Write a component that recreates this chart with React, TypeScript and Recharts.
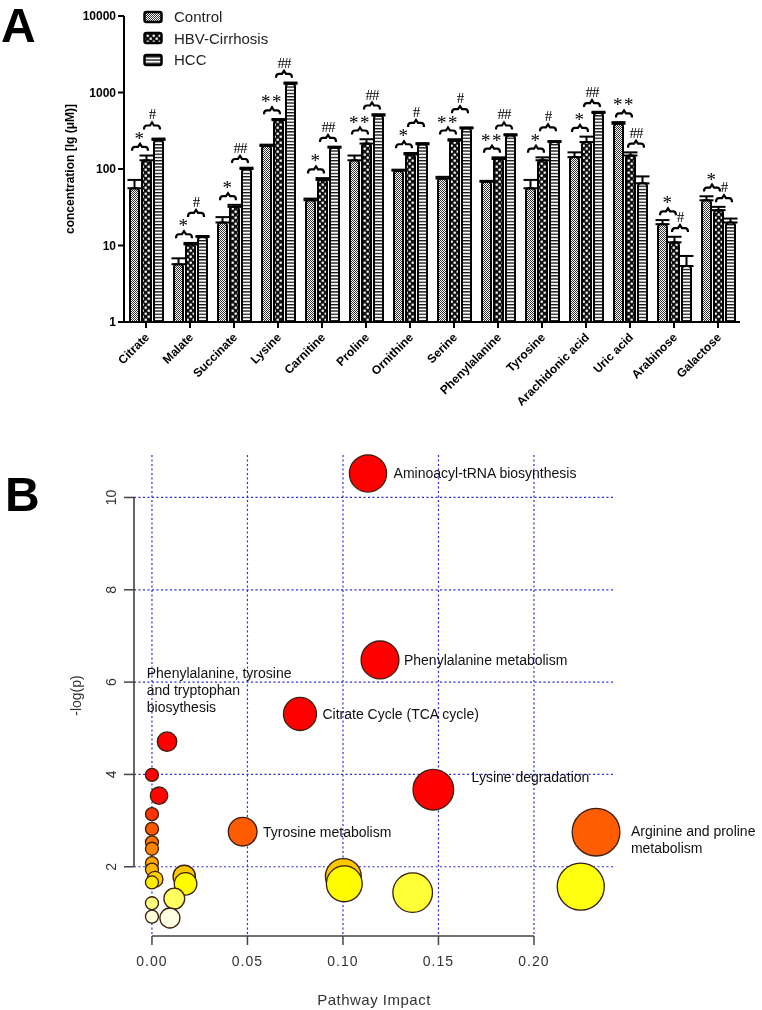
import React from 'react'
import {
  ComposedChart, Bar, ErrorBar, Scatter, ScatterChart, XAxis, YAxis,
  CartesianGrid, ReferenceLine,
} from 'recharts'

// ---- panel A: serum metabolite concentrations ----
const metabolites = ['Citrate', 'Malate', 'Succinate', 'Lysine', 'Carnitine', 'Proline', 'Ornithine', 'Serine',
  'Phenylalanine', 'Tyrosine', 'Arachidonic acid', 'Uric acid', 'Arabinose', 'Galactose']
const control = [56, 5.7, 20, 200, 39, 130, 95, 75, 68, 56, 143, 390, 19, 39]
const controlErr = [16, 1.1, 3.5, 8, 2, 20, 3, 4, 2, 16, 22, 20, 2.5, 5]
const cirrhosis = [130, 10.3, 32, 435, 72, 215, 155, 235, 135, 130, 225, 150, 11, 29]
const cirrhosisErr = [20, 0.5, 2, 15, 4, 30, 7, 10, 7, 12, 40, 15, 2, 3]
const hcc = [240, 12.9, 100, 1300, 190, 500, 210, 340, 275, 225, 540, 65, 5.4, 20]
const hccErr = [10, 0.4, 4, 50, 6, 20, 8, 10, 10, 7, 20, 15, 1.9, 2.5]
const sigVsControl = ['*', '*', '*', '**', '*', '**', '*', '**', '**', '*', '*', '**', '*', '*']
const sigVsCirrhosis = ['#', '#', '##', '##', '##', '##', '#', '#', '##', '#', '##', '##', '#', '#']
const concTicks = [1, 10, 100, 1000, 10000]

// ---- panel B: pathway analysis ----
const pathwayNames = ['Aminoacyl-tRNA biosynthesis', 'Phenylalanine metabolism', 'Citrate Cycle (TCA cycle)',
  'Phenylalanine, tyrosine and tryptophan biosythesis', '', 'Lysine degradation', '', '', '',
  'Tyrosine metabolism', 'Arginine and proline metabolism', '', '', '', '', '', '', '', '', '', '', '', '',
  '', '', '', '', '']
const pathwayImpact = [0.1131, 0.1194, 0.0775, 0.0079, 0, 0.1473, 0.0037, 0, 0, 0.0475, 0.2325, 0, 0, 0, 0,
  0.0169, 0.1002, 0.0016, 0, 0.1007, 0.0176, 0.2245, 0.1365, 0.0117, 0, 0, 0.0094]
const pathwayLogP = [10.52, 6.48, 5.31, 4.71, 3.99, 3.67, 3.54, 3.14, 2.82, 2.76, 2.75, 2.53, 2.39, 2.08, 1.94,
  1.79, 1.79, 1.73, 1.66, 1.63, 1.63, 1.57, 1.44, 1.31, 1.21, 0.92, 0.89]
const impactTicks = [0, 0.05, 0.1, 0.15, 0.2]
const logPTicks = [2, 4, 6, 8, 10]

const FONT = '"Liberation Sans", Arial, sans-serif'
const BAR_STEP = 12

const barData = metabolites.map((name, i) => {
  const c = control[i] + controlErr[i]
  const h = cirrhosis[i] + cirrhosisErr[i]
  const t = hcc[i] + hccErr[i]
  const bracketA = Math.max(c, h) * 1.3
  let bracketB = Math.max(h, t) * 1.3
  if (h >= c) bracketB = Math.max(bracketB, bracketA * 1.9)
  return {
    name,
    control: control[i], controlErr: [0, controlErr[i]],
    cirrhosis: cirrhosis[i], cirrhosisErr: [0, cirrhosisErr[i]],
    hcc: hcc[i], hccErr: [0, hccErr[i]],
    bracketA, bracketB, sigA: sigVsControl[i], sigB: sigVsCirrhosis[i],
  }
})

const pathways = pathwayImpact.map((impact, i) => ({ name: pathwayNames[i], impact, logp: pathwayLogP[i] }))

const LABELS: Record<string, { dx: number; dy: number; lines: string[] }> = {
  'Aminoacyl-tRNA biosynthesis': { dx: 7, dy: 0, lines: ['Aminoacyl-tRNA biosynthesis'] },
  'Phenylalanine metabolism': { dx: 5, dy: 0, lines: ['Phenylalanine metabolism'] },
  'Citrate Cycle (TCA cycle)': { dx: 6, dy: 0, lines: ['Citrate Cycle (TCA cycle)'] },
  'Tyrosine metabolism': { dx: 6, dy: 0, lines: ['Tyrosine metabolism'] },
  'Lysine degradation': { dx: 18, dy: -13, lines: ['Lysine degradation'] },
  'Arginine and proline metabolism': { dx: 11, dy: -1, lines: ['Arginine and proline', 'metabolism'] },
  'Phenylalanine, tyrosine and tryptophan biosythesis': { dx: -30, dy: -69, lines: ['Phenylalanine, tyrosine', 'and tryptophan', 'biosythesis'] },
}

function bubbleRadius(impact: number) {
  return 6.5 + 36 * Math.sqrt(impact)
}

// red -> orange -> yellow -> white as -log(p) drops
function heatColour(v: number) {
  if (v >= 3.6) return 'hsl(0,100%,50%)'
  if (v >= 1.74) return `hsl(${(48 * (3.6 - v)) / 1.86},100%,50%)`
  if (v >= 1.62) return `hsl(${48 + ((1.74 - v) / 0.12) * 12},100%,50%)`
  const l = Math.min(97, 50 + ((1.62 - v) / 0.77) * 47)
  return `hsl(60,100%,${l}%)`
}

function Patterns() {
  return (
    <svg width={0} height={0} style={{ position: 'absolute' }}>
      <defs>
        <pattern id="pat-control" patternUnits="userSpaceOnUse" width={2} height={2}>
          <rect width={2} height={2} fill="#fff" />
          <rect width={1} height={1} fill="#333" />
          <rect x={1} y={1} width={1} height={1} fill="#333" />
        </pattern>
        <pattern id="pat-hbv" patternUnits="userSpaceOnUse" width={6} height={6}>
          <rect width={6} height={6} fill="#111" />
          <rect x={0.6} y={0.6} width={2.2} height={2.2} fill="#fff" />
          <rect x={3.6} y={3.6} width={2.2} height={2.2} fill="#fff" />
        </pattern>
        <pattern id="pat-hcc" patternUnits="userSpaceOnUse" width={4} height={3.2}>
          <rect width={4} height={3.2} fill="#fff" />
          <rect width={4} height={1.3} fill="#111" />
        </pattern>
      </defs>
    </svg>
  )
}

function Bracket(props: any) {
  const { cx, cy, payload, side } = props
  if (cx == null || cy == null) return null
  const mid = cx + (side * BAR_STEP) / 2
  const h = 8
  const text = side < 0 ? payload.sigA : payload.sigB
  const star = side < 0
  return (
    <g>
      <path
        d={`M${mid - h},${cy + 4} Q${mid - h},${cy} ${mid - h + 3},${cy} L${mid - 2},${cy} L${mid},${cy - 3} L${mid + 2},${cy} L${mid + h - 3},${cy} Q${mid + h},${cy} ${mid + h},${cy + 4}`}
        fill="none" stroke="#000" strokeWidth={2.2}
      />
      <text x={mid} y={star ? cy - 2 : cy - 6} textAnchor="middle" fontFamily='"Liberation Serif", serif'
        fontSize={star ? 19 : 15} letterSpacing={star ? 1.5 : -1}>{text}</text>
    </g>
  )
}

function Bubble(props: any) {
  const { cx, cy, payload } = props
  if (cx == null || cy == null) return null
  const r = bubbleRadius(payload.impact)
  const lab = LABELS[payload.name]
  return (
    <g>
      <circle cx={cx} cy={cy} r={r} fill={heatColour(payload.logp)} stroke="#3a1e10" strokeWidth={1.3} />
      {lab && lab.lines.map((t, k) => (
        <text key={k} x={cx + r + lab.dx} y={cy + lab.dy + k * 17} dominantBaseline="central"
          fontSize={14} fontFamily={FONT} fill="#111">{t}</text>
      ))}
    </g>
  )
}

const legendItems = [
  { label: 'Control', pat: 'pat-control' },
  { label: 'HBV-Cirrhosis', pat: 'pat-hbv' },
  { label: 'HCC', pat: 'pat-hcc' },
]

export default function App() {
  return (
    <div style={{ position: 'fixed', left: 0, top: 0, width: 762, height: 1010, background: '#fff', fontFamily: FONT }}>
      <Patterns />
      <div style={{ position: 'absolute', left: 1, top: 2, fontSize: 48, lineHeight: '48px', fontWeight: 'bold' }}>A</div>
      <div style={{ position: 'absolute', left: 5, top: 471, fontSize: 48, lineHeight: '48px', fontWeight: 'bold' }}>B</div>

      <div style={{ position: 'absolute', left: 0, top: 0 }}>
        <ComposedChart width={762} height={420} data={barData} barSize={9} barGap={3}
          margin={{ top: 16, right: 22, bottom: 18, left: 64 }}>
          <XAxis dataKey="name" interval={0} height={80} tickSize={6}
            axisLine={{ stroke: '#000', strokeWidth: 2 }} tickLine={{ stroke: '#000', strokeWidth: 2 }}
            tick={({ x, y, payload }: any) => (
              <text x={x + 4} y={y + 8} transform={`rotate(-45, ${x + 4}, ${y + 8})`} textAnchor="end"
                fontSize={12} fontWeight="bold" fontFamily={FONT} fill="#000">{payload.value}</text>
            )} />
          <YAxis scale="log" domain={[1, 10000]} ticks={concTicks} allowDataOverflow width={60} tickSize={6}
            axisLine={{ stroke: '#000', strokeWidth: 2 }} tickLine={{ stroke: '#000', strokeWidth: 2 }}
            tick={{ fontSize: 12, fontWeight: 'bold', fill: '#000', fontFamily: FONT }}
            label={({ viewBox }: any) => (
              <text x={70} y={viewBox.y + viewBox.height / 2} transform={`rotate(-90, 70, ${viewBox.y + viewBox.height / 2})`}
                textAnchor="middle" dominantBaseline="central" fontSize={12} fontWeight="bold" fontFamily={FONT}>
                concentration [lg (μM)]
              </text>
            )} />
          <Bar dataKey="control" fill="url(#pat-control)" stroke="#000" strokeWidth={2} radius={[3, 3, 0, 0]} isAnimationActive={false}>
            <ErrorBar dataKey="controlErr" width={7} strokeWidth={2} stroke="#000" />
          </Bar>
          <Bar dataKey="cirrhosis" fill="url(#pat-hbv)" stroke="#000" strokeWidth={2} radius={[3, 3, 0, 0]} isAnimationActive={false}>
            <ErrorBar dataKey="cirrhosisErr" width={7} strokeWidth={2} stroke="#000" />
          </Bar>
          <Bar dataKey="hcc" fill="url(#pat-hcc)" stroke="#000" strokeWidth={2} radius={[3, 3, 0, 0]} isAnimationActive={false}>
            <ErrorBar dataKey="hccErr" width={7} strokeWidth={2} stroke="#000" />
          </Bar>
          <Scatter dataKey="bracketA" legendType="none" isAnimationActive={false}
            shape={(p: any) => <Bracket {...p} side={-1} />} />
          <Scatter dataKey="bracketB" legendType="none" isAnimationActive={false}
            shape={(p: any) => <Bracket {...p} side={1} />} />
        </ComposedChart>
      </div>

      <div style={{ position: 'absolute', left: 143, top: 6 }}>
        {legendItems.map(it => (
          <div key={it.label} style={{ display: 'flex', alignItems: 'center', height: 21.5 }}>
            <svg width={22} height={14} style={{ flexShrink: 0 }}>
              <rect x={1.5} y={2} width={17} height={10} rx={2} fill={`url(#${it.pat})`} stroke="#000" strokeWidth={2.5} />
            </svg>
            <span style={{ marginLeft: 9, fontSize: 15, color: '#222' }}>{it.label}</span>
          </div>
        ))}
      </div>

      <div style={{ position: 'absolute', left: 0, top: 440 }}>
        <ScatterChart width={762} height={570} margin={{ top: 15, right: 148, bottom: 14, left: 84 }}>
          <CartesianGrid stroke="#2b2bdc" strokeDasharray="2 2.5" strokeWidth={1.2}
            horizontalValues={logPTicks} verticalValues={impactTicks} />
          <XAxis type="number" dataKey="impact" domain={[-0.0094, 0.2419]} ticks={impactTicks}
            height={60} axisLine={false} tickSize={9} tickMargin={11}
            tickLine={{ stroke: '#444', strokeWidth: 1.5 }}
            tickFormatter={(v: number) => v.toFixed(2)}
            tick={{ fontSize: 14, fill: '#333', fontFamily: FONT, letterSpacing: 1 }}
            label={({ viewBox }: any) => (
              <text x={viewBox.x + viewBox.width / 2} y={viewBox.y + 69} textAnchor="middle" fontSize={15}
                fill="#333" fontFamily={FONT} letterSpacing={0.5}>Pathway Impact</text>
            )} />
          <YAxis type="number" dataKey="logp" domain={[0.5, 10.92]} ticks={logPTicks}
            width={50} axisLine={false} tickSize={10} tickLine={{ stroke: '#444', strokeWidth: 1.5 }}
            tick={({ x, y, payload }: any) => (
              <text x={x - 6} y={y} transform={`rotate(-90, ${x - 6}, ${y})`} textAnchor="middle" fontSize={14}
                fill="#333" fontFamily={FONT}>{payload.value}</text>
            )}
            label={({ viewBox }: any) => (
              <text x={76} y={viewBox.y + viewBox.height / 2} transform={`rotate(-90, 76, ${viewBox.y + viewBox.height / 2})`}
                textAnchor="middle" dominantBaseline="central" fontSize={14} fill="#333" fontFamily={FONT}>-log(p)</text>
            )} />
          <ReferenceLine segment={[{ x: -0.0094, y: 2 }, { x: -0.0094, y: 10 }]} stroke="#333" strokeWidth={1.5} />
          <ReferenceLine segment={[{ x: 0, y: 0.5 }, { x: 0.2, y: 0.5 }]} stroke="#444" strokeWidth={1.5} />
          <Scatter data={pathways} isAnimationActive={false} shape={(p: any) => <Bubble {...p} />} />
        </ScatterChart>
      </div>
    </div>
  )
}
